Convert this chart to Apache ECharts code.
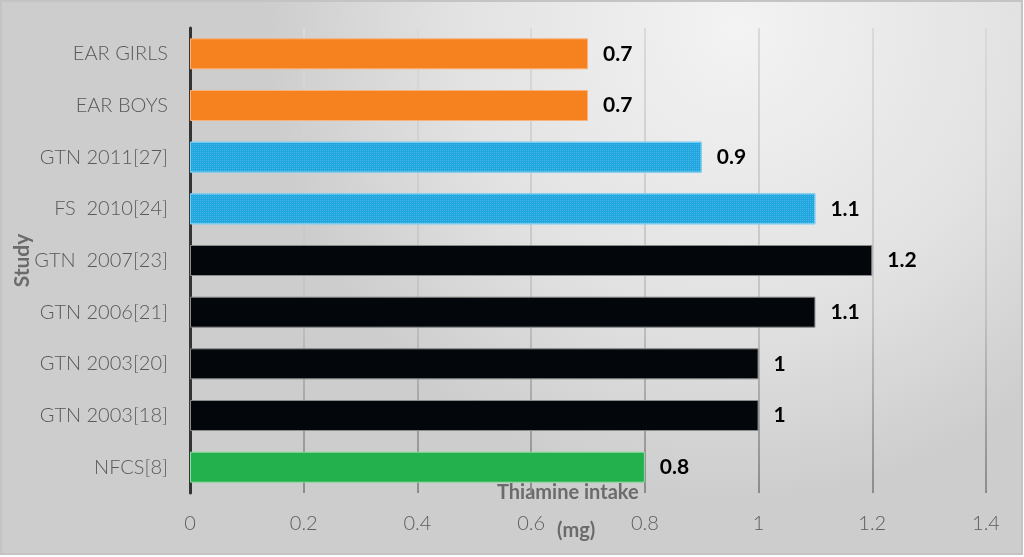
<!DOCTYPE html>
<html>
<head>
<meta charset="utf-8">
<script src="https://cdn.jsdelivr.net/npm/echarts@6/dist/echarts.min.js"></script>
<style>
  html, body { margin: 0; padding: 0; }
  #main { width: 1024px; height: 557px; }
</style>
</head>
<body>
<div id="main"></div>
<script>
// studies, top to bottom
var studies = ['EAR GIRLS', 'EAR BOYS', 'GTN 2011[27]', 'FS  2010[24]', 'GTN  2007[23]',
  'GTN 2006[21]', 'GTN 2003[20]', 'GTN 2003[18]', 'NFCS[8]'];
var intake = [0.7, 0.7, 0.9, 1.1, 1.2, 1.1, 1, 1, 0.8];
// colour group of each bar
var groups = ['ear', 'ear', 'blue', 'blue', 'black', 'black', 'black', 'black', 'green'];
var xTicks = [0, 0.2, 0.4, 0.6, 0.8, 1, 1.2, 1.4];

var fills = { ear: '#f5821f', blue: '#20a6de', black: '#03060a', green: '#22b14c' };
var edges = { ear: '#fbb27a', blue: '#7fcdf0', black: '#8a8a8a', green: '#8fdca4' };

var chart = echarts.init(document.getElementById('main'));

var barData = intake.map(function (v, i) {
  var g = groups[i];
  var style = { color: fills[g], borderColor: edges[g], borderWidth: 1 };
  if (g === 'blue') {
    style.decal = {
      symbol: 'rect', symbolSize: 1,
      dashArrayX: [1, 1], dashArrayY: [1, 1],
      color: 'rgba(255,255,255,0.18)'
    };
  }
  return { value: v, itemStyle: style };
});

var option = {
  animation: false,
  graphic: [
    {
      type: 'rect', z: -10, silent: true,
      shape: { x: 1, y: 1, width: 1021, height: 553 },
      style: {
        fill: {
          type: 'radial', x: 0.72, y: 0.05, r: 0.85,
          colorStops: [
            { offset: 0, color: '#f3f3f3' },
            { offset: 0.6, color: '#e2e2e2' },
            { offset: 1, color: '#cdcdcd' }
          ]
        },
        stroke: '#c4c4c4', lineWidth: 2
      }
    },
    {
      type: 'text', left: 497, top: 483,
      style: { text: 'Thiamine intake', font: 'bold 20px Lato', fill: '#6b6b6b' }
    },
    {
      type: 'text', left: 557, top: 521,
      style: { text: '(mg)', font: 'bold 20px Lato', fill: '#6b6b6b' }
    }
  ],
  grid: { left: 190, right: 38, top: 28, bottom: 64, containLabel: false, outerBoundsMode: 'none' },
  xAxis: {
    type: 'value',
    min: 0, max: 1.4, interval: 0.2,
    axisLine: { show: false },
    axisTick: { show: false },
    axisLabel: {
      margin: 21,
      color: '#5e5e5e',
      fontFamily: 'Lato', fontSize: 20, fontWeight: 300,
      formatter: function (v) {
        var t = xTicks.find(function (x) { return Math.abs(x - v) < 1e-6; });
        return t === undefined ? '' : String(t);
      }
    },
    splitLine: {
      show: true,
      lineStyle: {
        width: 2,
        color: {
          type: 'linear', global: true, x: 0, y: 28, x2: 0, y2: 493,
          colorStops: [
            { offset: 0, color: '#dadada' },
            { offset: 0.6, color: '#c4c4c4' },
            { offset: 1, color: '#8c8c8c' }
          ]
        }
      }
    }
  },
  yAxis: {
    type: 'category',
    inverse: true,
    data: studies,
    name: 'Study',
    nameLocation: 'middle',
    nameRotate: 90,
    nameGap: 157,
    nameMoveOverlap: false,
    nameTextStyle: { color: '#6b6b6b', fontFamily: 'Lato', fontSize: 21, fontWeight: 'bold' },
    axisLine: { show: true, lineStyle: { color: '#333', width: 3 } },
    axisTick: { show: false },
    axisLabel: {
      margin: 22,
      color: '#595959',
      fontFamily: 'Lato', fontSize: 20, fontWeight: 300
    },
    splitLine: { show: false }
  },
  series: [{
    type: 'bar',
    data: barData,
    barWidth: 31,
    label: {
      show: true,
      position: 'right',
      distance: 15,
      color: '#000',
      fontFamily: 'Lato', fontSize: 21, fontWeight: 'bold'
    }
  }]
};

chart.setOption(option);
</script>
</body>
</html>
